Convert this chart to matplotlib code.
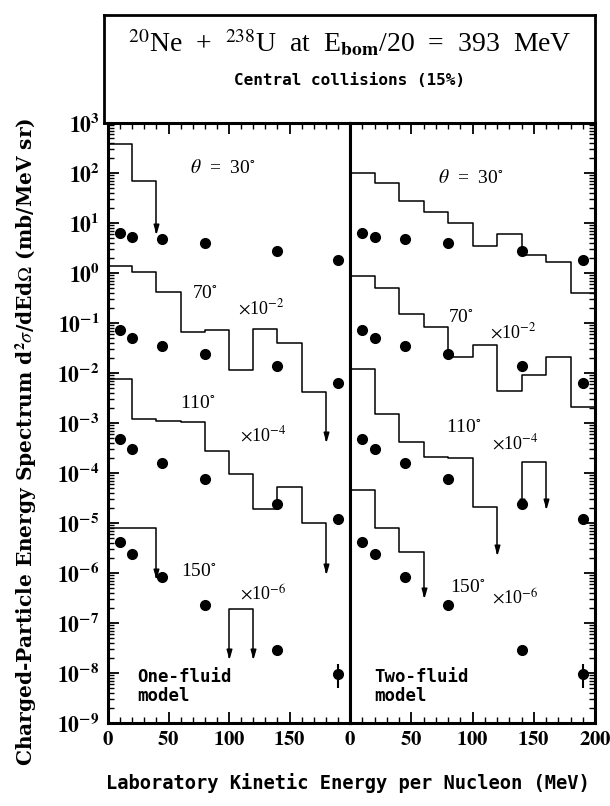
import numpy as np
import matplotlib
matplotlib.use("Agg")
import matplotlib.pyplot as plt
from matplotlib.path import Path
from matplotlib.ticker import LogLocator, MultipleLocator, FixedLocator, FuncFormatter, NullFormatter

plt.rcParams['font.family'] = ['Liberation Serif', 'DejaVu Serif']
plt.rcParams['mathtext.fontset'] = 'stix'

# measured spectra (same points in both panels), already scaled by 1, 1e-2, 1e-4, 1e-6
E_data = [10, 20, 45, 80, 140, 190]
data_30 = [6.4, 5.3, 4.7, 3.9, 2.7, 1.8]
data_70 = [0.072, 0.049, 0.035, 0.024, 0.014, 0.0062]
data_110 = [4.7e-4, 3.0e-4, 1.56e-4, 7.7e-5, 2.4e-5, 1.18e-5]
data_150 = [4.1e-6, 2.4e-6, 8.4e-7, 2.25e-7, 2.9e-8, 9.6e-9]
err_150_E = [140, 190]
err_150_lo = [2.4e-8, 5.0e-9]
err_150_hi = [3.5e-8, 1.5e-8]

# model histograms, 20 MeV bins starting at 0 MeV unless noted
one_30 = [375, 69]
one_30_tip = 6.6
one_70 = [1.38, 1.03, 0.42, 0.067, 0.072, 0.0115, 0.075, 0.039, 0.0041]
one_70_tip = 4.6e-4
one_110 = [7.5e-3, 1.2e-3, 1.12e-3, 1.06e-3, 2.8e-4, 9.5e-5, 1.9e-5, 5.3e-5, 1.01e-5]
one_110_tip = 1.07e-6
one_150 = [7.8e-6, 8.0e-6]
one_150_tip = 8.5e-7
one_150_box = [1.9e-7]          # bin 100-120
one_150_box_tip = 2.1e-8

two_30 = [101, 62, 27.9, 16.8, 10.1, 3.47, 6.0, 2.29, 1.68, 0.40]
two_70 = [0.88, 0.49, 0.151, 0.082, 0.0206, 0.036, 0.0044, 0.0091, 0.0212, 0.0021]
two_110 = [0.0119, 1.51e-3, 4.2e-4, 2.06e-4, 2.0e-4, 2.06e-5]
two_110_tip = 2.5e-6
two_110_box = [1.64e-4]         # bin 140-160
two_110_box_tip = 2.1e-5
two_150 = [4.6e-5, 7.8e-6, 2.6e-6]
two_150_tip = 3.4e-7

BIN = 20
ARROW = Path([(-0.28, 1.0), (0.28, 1.0), (0.0, 0.0), (-0.28, 1.0)],
             [Path.MOVETO, Path.LINETO, Path.LINETO, Path.CLOSEPOLY])


def arrow(ax, x, y):
    ax.plot([x], [y], marker=ARROW, ms=12, color='k', clip_on=False)


def hist(ax, start, vals, tip_left=None, tip_right=None):
    edges = start + BIN * np.arange(len(vals) + 1)
    xs = list(np.repeat(edges, 2)[1:-1])
    ys = list(np.repeat(vals, 2))
    if tip_left is not None:
        xs = [edges[0]] + xs
        ys = [tip_left] + ys
        arrow(ax, edges[0], tip_left)
    if tip_right is not None:
        xs = xs + [edges[-1]]
        ys = ys + [tip_right]
        arrow(ax, edges[-1], tip_right)
    ax.plot(xs, ys, color='k', lw=1.1)


def points(ax):
    for d in (data_30, data_70, data_110, data_150):
        ax.plot(E_data, d, 'o', color='k', ms=7)
    ax.vlines(err_150_E, err_150_lo, err_150_hi, color='k', lw=1.5)


def ylab(v, pos):
    return r'$\mathbf{10^{%d}}$' % int(round(np.log10(v)))


def xlab(v, pos):
    return r'$\mathbf{%d}$' % int(round(v))


fig = plt.figure(figsize=(6.1, 8.06), dpi=100)
W, H = 610.0, 806.0

box = fig.add_axes([104 / W, 1 - 123 / H, 491 / W, 108 / H])
box.set_xticks([])
box.set_yticks([])
for s in box.spines.values():
    s.set_linewidth(2)
box.text(0.5, 0.74, r'$^{20}$Ne  +  $^{238}$U  at  E$_{\mathbf{bom}}$/20  =  393  MeV',
         transform=box.transAxes, ha='center', va='center', fontsize=20)
box.text(0.5, 0.39, 'Central collisions (15%)', transform=box.transAxes,
         ha='center', va='center', fontsize=11.5, family='DejaVu Sans Mono', weight='bold')

axL = fig.add_axes([108 / W, 83 / H, 242 / W, 600 / H])
axR = fig.add_axes([350 / W, 83 / H, 245 / W, 600 / H])

for ax in (axL, axR):
    ax.set_yscale('log')
    ax.set_ylim(1e-9, 1e3)
    ax.set_xlim(0, 200)
    ax.xaxis.set_major_locator(MultipleLocator(50))
    ax.xaxis.set_minor_locator(MultipleLocator(10))
    ax.xaxis.set_major_formatter(FuncFormatter(xlab))
    ax.yaxis.set_major_locator(LogLocator(base=10, numticks=20))
    ax.yaxis.set_minor_locator(LogLocator(base=10, subs=np.arange(2, 10), numticks=20))
    ax.yaxis.set_minor_formatter(NullFormatter())
    for s in ax.spines.values():
        s.set_linewidth(2.2)
    ax.tick_params(which='major', direction='in', length=8, width=1.3, top=True, pad=6)
    ax.tick_params(which='minor', direction='in', length=4, width=1.0, top=True)
    ax.tick_params(axis='x', labelsize=15)

axL.tick_params(which='both', axis='y', left=True, right=False, labelsize=15.5)
axL.yaxis.set_major_formatter(FuncFormatter(ylab))
axL.xaxis.set_major_locator(FixedLocator([0, 50, 100, 150]))
axR.tick_params(which='both', axis='y', left=False, right=True, labelleft=False)

# one-fluid
hist(axL, 0, one_30, tip_right=one_30_tip)
hist(axL, 0, one_70, tip_right=one_70_tip)
hist(axL, 0, one_110, tip_right=one_110_tip)
hist(axL, 0, one_150, tip_right=one_150_tip)
hist(axL, 100, one_150_box, tip_left=one_150_box_tip, tip_right=one_150_box_tip)
points(axL)

# two-fluid
hist(axR, 0, two_30)
hist(axR, 0, two_70)
hist(axR, 0, two_110, tip_right=two_110_tip)
hist(axR, 140, two_110_box, tip_left=two_110_box_tip, tip_right=two_110_box_tip)
hist(axR, 0, two_150, tip_right=two_150_tip)
points(axR)

lbl = dict(ha='center', va='center', fontsize=14)
sc = dict(ha='center', va='center', fontsize=13)
axL.text(95, 10 ** 2.1, r'$\theta$  =  30$^{\circ}$', **lbl)
axL.text(80, 10 ** -0.4, r'70$^{\circ}$', **lbl)
axL.text(127, 10 ** -0.7, r'$\times$10$^{-2}$', **sc)
axL.text(74, 10 ** -2.6, r'110$^{\circ}$', **lbl)
axL.text(128, 10 ** -3.24, r'$\times$10$^{-4}$', **sc)
axL.text(75, 10 ** -5.98, r'150$^{\circ}$', **lbl)
axL.text(128, 10 ** -6.4, r'$\times$10$^{-6}$', **sc)
axL.text(24, 10 ** -8.27, 'One-fluid\nmodel', ha='left', va='center', fontsize=12.5,
         family='DejaVu Sans Mono', weight='bold', linespacing=1.1)

axR.text(99, 10 ** 1.9, r'$\theta$  =  30$^{\circ}$', **lbl)
axR.text(91, 10 ** -0.88, r'70$^{\circ}$', **lbl)
axR.text(133, 10 ** -1.18, r'$\times$10$^{-2}$', **sc)
axR.text(93, 10 ** -3.1, r'110$^{\circ}$', **lbl)
axR.text(135, 10 ** -3.4, r'$\times$10$^{-4}$', **sc)
axR.text(96, 10 ** -6.3, r'150$^{\circ}$', **lbl)
axR.text(135, 10 ** -6.48, r'$\times$10$^{-6}$', **sc)
axR.text(20, 10 ** -8.27, 'Two-fluid\nmodel', ha='left', va='center', fontsize=12.5,
         family='DejaVu Sans Mono', weight='bold', linespacing=1.1)

fig.text(26 / W, 1 - 442 / H, r'Charged-Particle Energy Spectrum d$^{\mathbf{2}}\sigma$/dEd$\Omega$ (mb/MeV sr)',
         rotation=90, ha='center', va='center', fontsize=14.5, weight='bold', family='DejaVu Serif')
fig.text(348 / W, 1 - 783 / H, 'Laboratory Kinetic Energy per Nucleon (MeV)',
         ha='center', va='center', fontsize=13.5, weight='bold', family='DejaVu Sans Mono')

fig.savefig('out.png', dpi=100)
